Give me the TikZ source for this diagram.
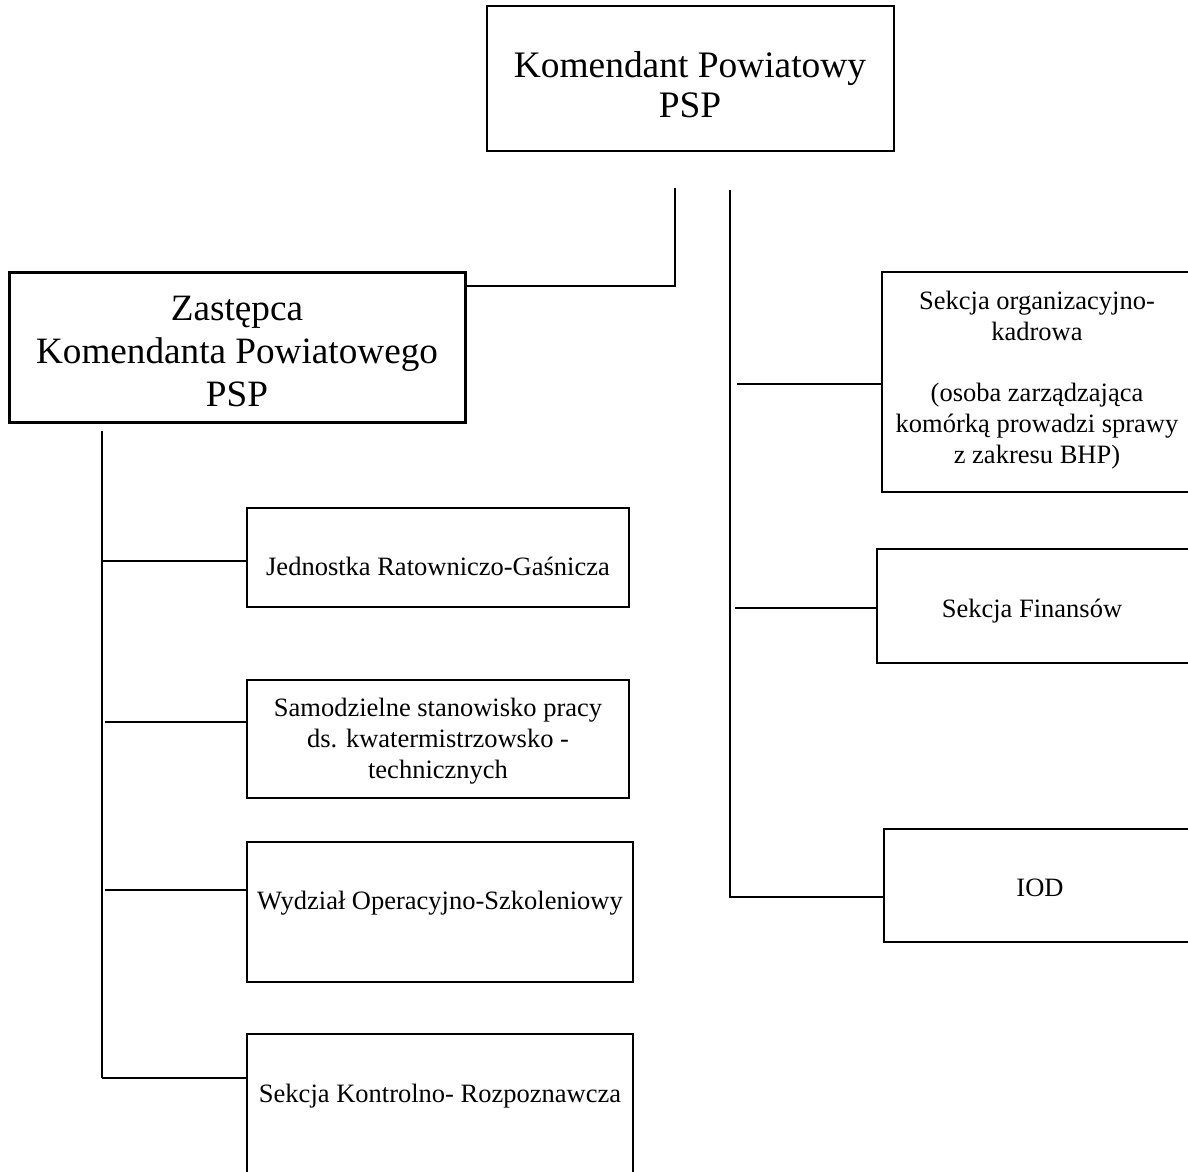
\documentclass[tikz,border=0pt]{standalone}
\usepackage{fontspec}
\setmainfont{Liberation Serif}
\begin{document}
\begin{tikzpicture}[x=1pt,y=-1pt,
  box/.style={draw=black, line width=2pt, rectangle, inner sep=0pt},
  thickbox/.style={box, line width=3pt},
  small/.style={font=\fontsize{26.5}{30.8}\selectfont, align=center, inner sep=0pt},
  topf/.style={font=\fontsize{37.4}{40}\selectfont, align=center, inner sep=0pt},
  zastf/.style={font=\fontsize{37.2}{43}\selectfont, align=center, inner sep=0pt},
  conn/.style={draw=black, line width=2.2pt}]
\useasboundingbox (0,0) rectangle (1188,1171);
\clip (0,0) rectangle (1188,1171);
\fill[white] (0,0) rectangle (1188,1171);
% boxes
\node[box, line width=2.5pt, minimum width=407, minimum height=145] (kp) at (690.5,78.5) {};
\node[thickbox, minimum width=456, minimum height=150] (zk) at (237,347) {};
\node[box, minimum width=382, minimum height=99] (jrg) at (438,557.5) {};
\node[box, minimum width=382, minimum height=118] (ssp) at (438,739) {};
\node[box, minimum width=386, minimum height=140] (wos) at (440,912) {};
\node[box, minimum width=386, minimum height=166] (skr) at (440,1117) {};
\node[box, minimum width=318, minimum height=220] (sok) at (1041,382) {};
\node[box, minimum width=323, minimum height=114] (sf) at (1038.5,606) {};
\node[box, minimum width=316, minimum height=113] (iod) at (1042,885.5) {};
% texts
\node[topf] (kpt) at (690,85) {Komendant Powiatowy\\PSP};
\node[zastf] (zkt) at (237,351) {Zastępca\\Komendanta Powiatowego\\PSP};
\node[small, anchor=base] (jrgt) at (438,575) {Jednostka Ratowniczo-Gaśnicza};
\node[small] (sspt) at (438,741) {Samodzielne stanowisko pracy\\ds. kwatermistrzowsko -\\technicznych};
\node[small, anchor=base] (wost) at (440,909) {Wydział Operacyjno-Szkoleniowy};
\node[small, anchor=base] (skrt) at (440,1102) {Sekcja Kontrolno- Rozpoznawcza};
\node[small] (sokt) at (1037,380) {Sekcja organizacyjno-\\kadrowa\\[30.8pt](osoba zarządzająca\\komórką prowadzi sprawy\\z zakresu BHP)};
\node[small, anchor=base] (sft) at (1032,617) {Sekcja Finansów};
\node[small, anchor=base] (iodt) at (1040,896) {IOD};
% connectors: top
\coordinate (t1) at (675,188);
\coordinate (t2) at (675,286);
\draw[conn] (t1) -- (t2) -- (t2 -| zk.east);
% right trunk
\coordinate (r0) at (730,190);
\coordinate (r3) at (730,897);
\coordinate (r1) at (737,384);
\coordinate (r2) at (735,608);
\draw[conn] (r0) -- (r3) -- (r3 -| iod.west);
\draw[conn] (r1) -- (r1 -| sok.west);
\draw[conn] (r2) -- (r2 -| sf.west);
% left trunk
\coordinate (l0) at (102,431);
\coordinate (l4) at (102,1078);
\coordinate (l1) at (102,561);
\coordinate (l2) at (105,722);
\coordinate (l3) at (105,890);
\draw[conn] (l0) -- (l4);
\draw[conn] (l1) -- (l1 -| jrg.west);
\draw[conn] (l2) -- (l2 -| ssp.west);
\draw[conn] (l3) -- (l3 -| wos.west);
\draw[conn] (l4) -- (l4 -| skr.west);
\end{tikzpicture}
\end{document}
